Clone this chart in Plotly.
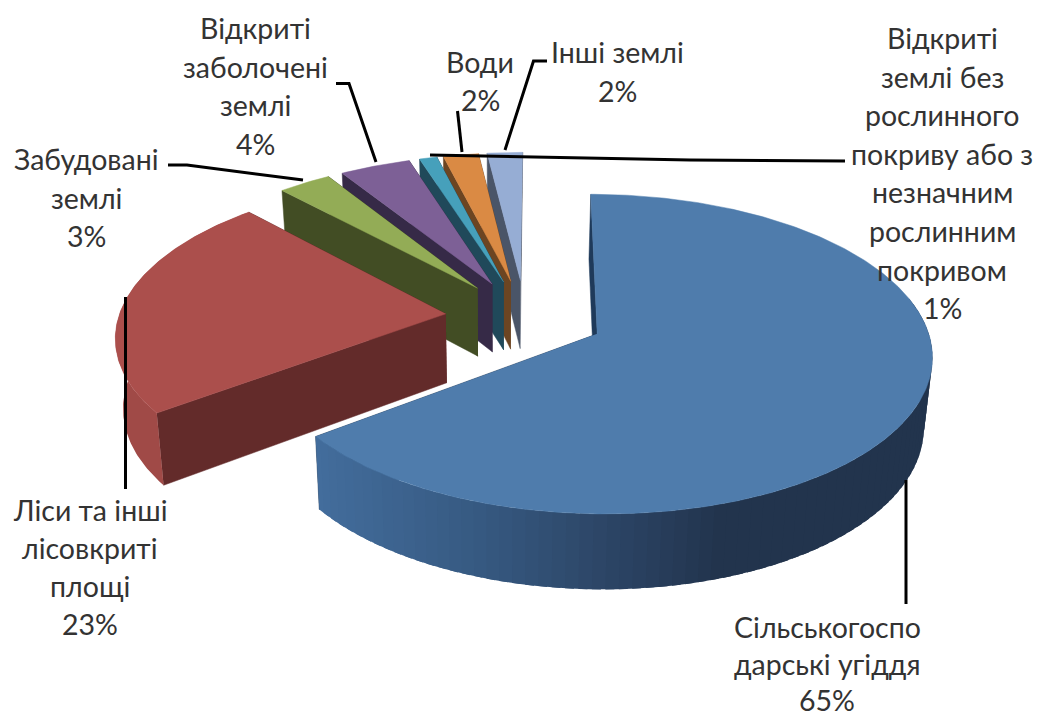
import numpy as np
import plotly.graph_objects as go

# ---- data ----
categories = ["Сільськогосподарські угіддя", "Ліси та інші лісовкриті площі", "Забудовані землі",
              "Відкриті заболочені землі", "Відкриті землі без рослинного покриву або з незначним рослинним покривом",
              "Води", "Інші землі"]
values = [64.7, 23.3, 3, 4, 1, 2, 2]
label_lines = [
    ["Сільськогоспо", "дарські угіддя", "65%"],
    ["Ліси та інші", "лісовкриті", "площі", "23%"],
    ["Забудовані", "землі", "3%"],
    ["Відкриті", "заболочені", "землі", "4%"],
    ["Відкриті", "землі без", "рослинного", "покриву або з", "незначним", "рослинним", "покривом", "1%"],
    ["Води", "2%"],
    ["Інші землі", "2%"],
]
# ---- styling / layout ----
top_colors = ["#4f7cac", "#ab4f4c", "#93ac56", "#7d6096", "#46a0bb", "#da8a44", "#96add4"]
wall_colors = ["#1f3a5a", "#632b2a", "#424d24", "#362a47", "#20495a", "#6c4522", "#4a5568"]
side_colors = ["#34557b", "#a04a47", "#424d24", "#362a47", "#20495a", "#6c4522", "#4a5568"]
label_pos = [  # centre x, first-line centre y, line height
    (827, 627, 36.5), (90, 510, 38), (86, 159, 38.5), (255, 28, 38.5), (942, 38, 38.6), (480, 62, 37.5), (617, 52, 38.5)]
leaders = [
    ([906, 906], [480, 604]),
    ([125.5, 125.5], [297, 489]),
    ([168, 187, 303], [165, 165, 180]),
    ([336, 349, 376], [83.5, 83.5, 162]),
    ([430, 690, 845], [155, 160, 161]),
    ([457.5, 462], [111, 152]),
    ([547, 533.5, 505], [61, 61, 150]),
]
CX, VX, VXB = 525, 540, 500
R, RY, CY, P, E = 327, 153, 317, 0.125, 0.244


def project(th, r, mid):
    wx = CX + R * (E * np.sin(mid) + r * np.sin(th))
    Y = E * np.cos(mid) + r * np.cos(th)
    s = 1 / (1 + P * Y)
    x = VX + (wx - VX) * s
    y = CY - RY * Y * s
    xb = VXB + (x - VXB) * 0.98
    yb = y + 69 * s ** 0.6
    return x, y, xb, yb


def poly(fig, x, y, color, lw=0.0):
    fig.add_trace(go.Scatter(x=list(x), y=list(y), mode="lines", fill="toself", fillcolor=color,
                             line=dict(color=color, width=lw), hoverinfo="skip", showlegend=False))


def lerp_color(px, stops):
    xs = [a for a, _ in stops]
    chans = [[int(c[i:i + 2], 16) for _, c in stops] for i in (1, 3, 5)]
    return "rgb(%d,%d,%d)" % tuple(np.interp(px, xs, ch) for ch in chans)


blue_side = [(320, "#436d9c"), (480, "#375a82"), (640, "#2a4160"), (720, "#23354e"), (940, "#22344d")]

fig = go.Figure()
total = sum(values)
edges = np.cumsum([0] + values) / total * 2 * np.pi
order = [6, 5, 4, 3, 2, 1, 0]
for i in order:
    a0, a1 = edges[i], edges[i + 1]
    mid = (a0 + a1) / 2
    th = np.linspace(a0, a1, max(8, int((a1 - a0) / 0.012)))
    ax, ay, axb, ayb = project(0.0, 0.0, mid)
    for a in (a1, a0):
        rx, ry, rxb, ryb = project(a, 1.0, mid)
        poly(fig, [ax, rx, rxb, axb], [ay, ry, ryb, ayb], wall_colors[i], 0.5)
    x, y, xb, yb = project(th, 1.0, mid)
    n = len(th)
    # Curved outer side: painted in bands, each overlapping the next one to hide seams.
    band = 3 if i == 0 else n
    for k in range(n - 2, -1, -band):
        j0 = max(k - band, 0)
        j1 = min(k + 2, n - 1)
        if np.cos(th[j0]) > 0.2 and np.cos(th[j1]) > 0.2:
            continue
        col = lerp_color(x[k], blue_side) if i == 0 else side_colors[i]
        sx, sy = x[j0:j1 + 1], y[j0:j1 + 1]
        bx, by = xb[j0:j1 + 1][::-1], yb[j0:j1 + 1][::-1]
        poly(fig, [*sx, *bx], [*sy, *by], col)
    poly(fig, [ax, *x], [ay, *y], top_colors[i], 0.5)

for lx, ly in leaders:
    fig.add_trace(go.Scatter(x=lx, y=ly, mode="lines", line=dict(color="black", width=3),
                             hoverinfo="skip", showlegend=False))

ann = []
for lines, (px, py, lh) in zip(label_lines, label_pos):
    for j, t in enumerate(lines):
        ann.append(dict(x=px, y=py + j * lh, text=t, showarrow=False, xref="x", yref="y",
                        xanchor="center", yanchor="middle",
                        font=dict(family="Lato, 'Open Sans', sans-serif", size=28.5, color="#333333")))

fig.update_layout(width=1037, height=717, margin=dict(l=0, r=0, t=0, b=0), paper_bgcolor="white",
                  plot_bgcolor="white", showlegend=False, annotations=ann,
                  xaxis=dict(range=[0, 1037], visible=False, fixedrange=True),
                  yaxis=dict(range=[717, 0], visible=False, fixedrange=True))
fig.write_html("out.html", config=dict(displayModeBar=False),
               post_script="document.body.style.margin='0';document.documentElement.style.overflow='hidden';")
